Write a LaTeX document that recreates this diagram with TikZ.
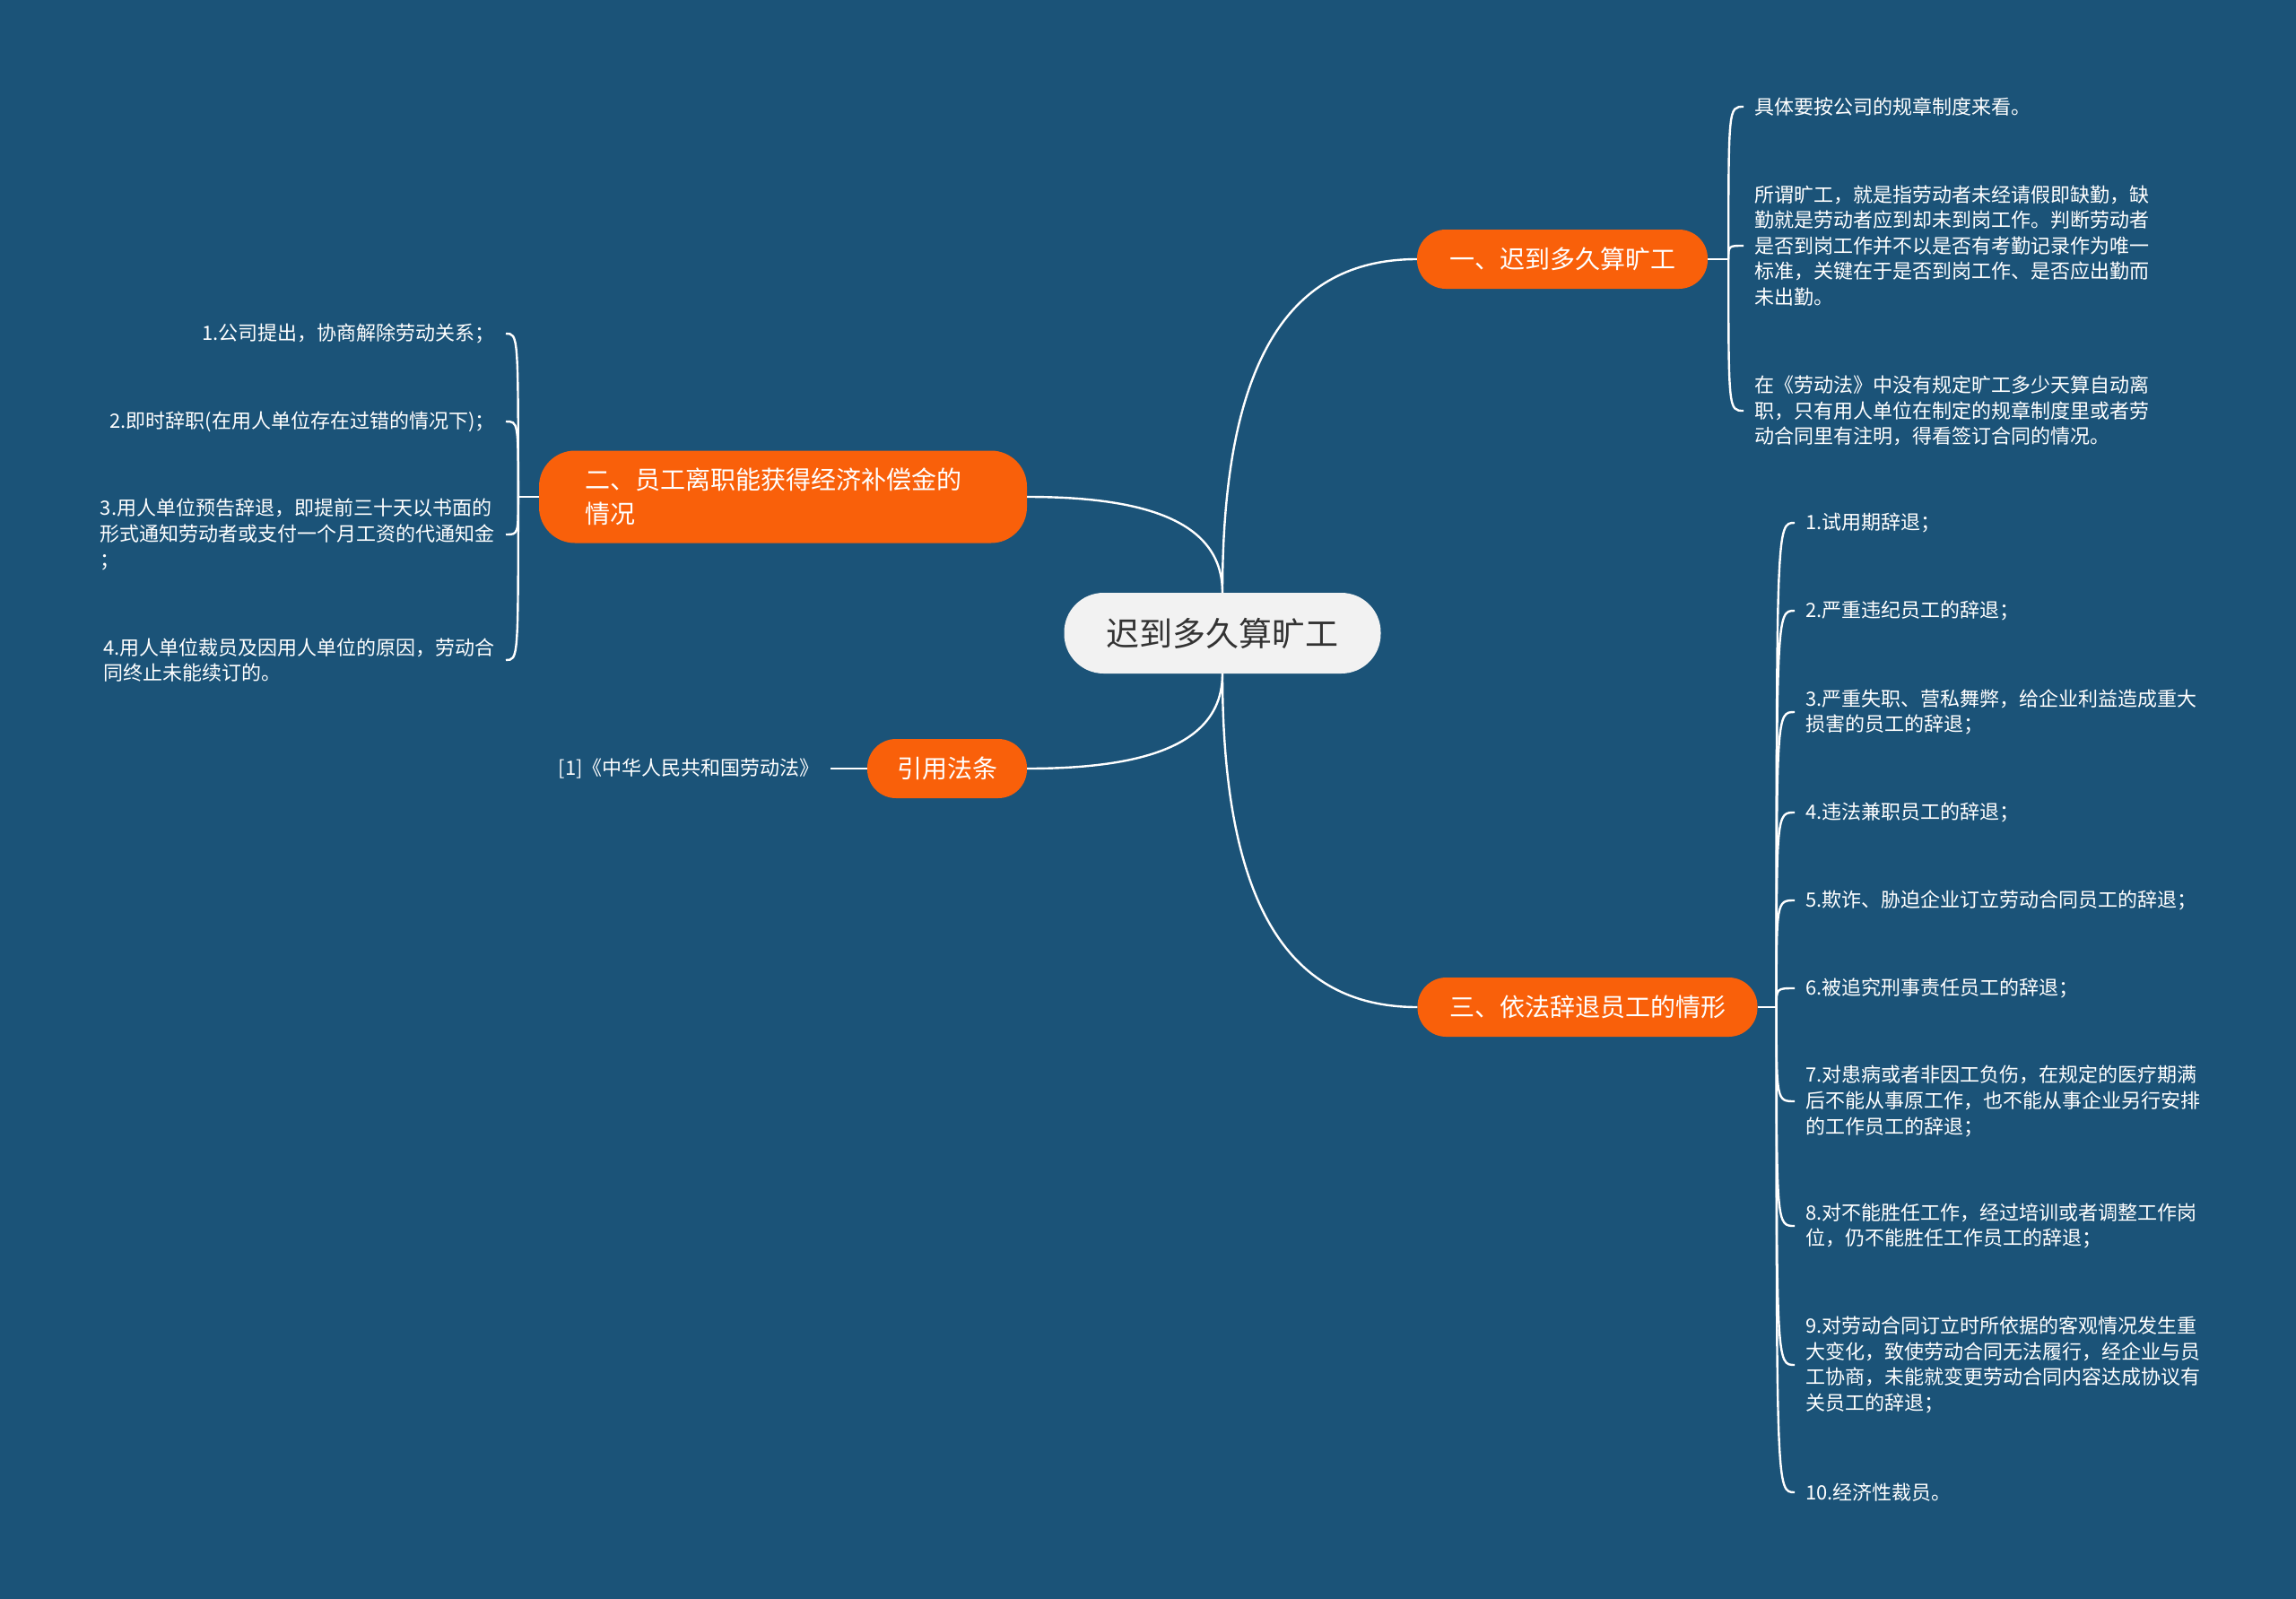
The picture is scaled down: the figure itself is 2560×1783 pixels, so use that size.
\documentclass[tikz,border=0pt]{standalone}
\usepackage{fontspec}
\setmainfont{Noto Sans CJK SC}
\usetikzlibrary{calc}
\definecolor{bg}{HTML}{1B5378}
\definecolor{org}{HTML}{F9600A}
\definecolor{cfill}{HTML}{F2F2F2}
\definecolor{ctext}{HTML}{333333}
\begin{document}
\begin{tikzpicture}[x=1pt,y=-1pt,
  conn/.style={draw=white,line width=2.4pt},
  cnode/.style={fill=cfill,text=ctext,rounded corners=44pt,minimum height=90pt,font=\fontsize{37}{44}\selectfont,inner sep=0pt},
  branch/.style={fill=org,text=white,rounded corners=32pt,minimum height=66pt,font=\fontsize{28}{38}\selectfont,inner sep=0pt},
  leaf/.style={text=white,font=\fontsize{22}{28.6}\selectfont,align=left,inner xsep=12pt,inner ysep=2pt},
]
\fill[bg] (0,0) rectangle (2560,1783);
\useasboundingbox (0,0) rectangle (2560,1783);

% central and branch nodes
\node[cnode,minimum width=353pt] (c) at (1363,706) {迟到多久算旷工};
\node[branch,minimum width=324pt] (b1) at (1742,289) {一、迟到多久算旷工};
\node[branch,minimum width=544pt,minimum height=103pt,align=left,rounded corners=40pt] (b2) at (873,554) {二、员工离职能获得经济补偿金的\hspace*{22pt}\\情况};
\node[branch,minimum width=178pt] (b3) at (1056,857) {引用法条};
\node[branch,minimum width=379pt] (b4) at (1770,1123) {三、依法辞退员工的情形};

% main connectors
\draw[conn] (c.north) .. controls ($(c.north)!0.75!(c.north |- b1.west)$) and ($(b1.west)!0.6!(c.north |- b1.west)$) .. (b1.west);
\draw[conn] (c.north) .. controls ($(c.north)!0.75!(c.north |- b2.east)$) and ($(b2.east)!0.6!(c.north |- b2.east)$) .. (b2.east);
\draw[conn] (c.south) .. controls ($(c.south)!0.75!(c.south |- b3.east)$) and ($(b3.east)!0.6!(c.south |- b3.east)$) .. (b3.east);
\draw[conn] (c.south) .. controls ($(c.south)!0.75!(c.south |- b4.west)$) and ($(b4.west)!0.6!(c.south |- b4.west)$) .. (b4.west);

% branch 1 leaves
\node[leaf,anchor=west] (l1a) at (1944,119) {具体要按公司的规章制度来看。};
\node[leaf,anchor=west] (l1b) at (1944,274) {所谓旷工，就是指劳动者未经请假即缺勤，缺\\勤就是劳动者应到却未到岗工作。判断劳动者\\是否到岗工作并不以是否有考勤记录作为唯一\\标准，关键在于是否到岗工作、是否应出勤而\\未出勤。};
\node[leaf,anchor=west] (l1c) at (1944,458) {在《劳动法》中没有规定旷工多少天算自动离\\职，只有用人单位在制定的规章制度里或者劳\\动合同里有注明，得看签订合同的情况。};

% branch 2 leaves
\node[leaf,anchor=east] (l2a) at (564,372) {1.公司提出，协商解除劳动关系；};
\node[leaf,anchor=east] (l2b) at (564,470) {2.即时辞职(在用人单位存在过错的情况下)；};
\node[leaf,anchor=east] (l2c) at (564,596) {3.用人单位预告辞退，即提前三十天以书面的\\形式通知劳动者或支付一个月工资的代通知金\\；};
\node[leaf,anchor=east] (l2d) at (564,736) {4.用人单位裁员及因用人单位的原因，劳动合\\同终止未能续订的。};

% branch 3 leaf
\node[leaf,anchor=east] (l3) at (926,857) {[1]《中华人民共和国劳动法》};

% branch 4 leaves
\node[leaf,anchor=west] (m1) at (2001,583) {1.试用期辞退；};
\node[leaf,anchor=west] (m2) at (2001,681) {2.严重违纪员工的辞退；};
\node[leaf,anchor=west] (m3) at (2001,794) {3.严重失职、营私舞弊，给企业利益造成重大\\损害的员工的辞退；};
\node[leaf,anchor=west] (m4) at (2001,906) {4.违法兼职员工的辞退；};
\node[leaf,anchor=west] (m5) at (2001,1004) {5.欺诈、胁迫企业订立劳动合同员工的辞退；};
\node[leaf,anchor=west] (m6) at (2001,1102) {6.被追究刑事责任员工的辞退；};
\node[leaf,anchor=west] (m7) at (2001,1228) {7.对患病或者非因工负伤，在规定的医疗期满\\后不能从事原工作，也不能从事企业另行安排\\的工作员工的辞退；};
\node[leaf,anchor=west] (m8) at (2001,1367) {8.对不能胜任工作，经过培训或者调整工作岗\\位，仍不能胜任工作员工的辞退；};
\node[leaf,anchor=west] (m9) at (2001,1522) {9.对劳动合同订立时所依据的客观情况发生重\\大变化，致使劳动合同无法履行，经企业与员\\工协商，未能就变更劳动合同内容达成协议有\\关员工的辞退；};
\node[leaf,anchor=west] (m10) at (2001,1664) {10.经济性裁员。};

% leaf connectors
\coordinate (s1) at ($(b1.east)+(23,0)$);
\coordinate (s2) at ($(b2.west)+(-23,0)$);
\coordinate (s4) at ($(b4.east)+(21,0)$);
\draw[conn] (b1.east) -- (s1);
\draw[conn] (b2.west) -- (s2);
\draw[conn] (b4.east) -- (s4);
\foreach \n in {l1a,l1b,l1c}
  \draw[conn] (s1) .. controls (s1 |- \n.west) .. (\n.west);
\foreach \n in {l2a,l2b,l2c,l2d}
  \draw[conn] (s2) .. controls (s2 |- \n.east) .. (\n.east);
\foreach \n in {m1,m2,m3,m4,m5,m6,m7,m8,m9,m10}
  \draw[conn] (s4) .. controls (s4 |- \n.west) .. (\n.west);
\draw[conn] (b3.west) -- (l3.east);
\end{tikzpicture}
\end{document}
